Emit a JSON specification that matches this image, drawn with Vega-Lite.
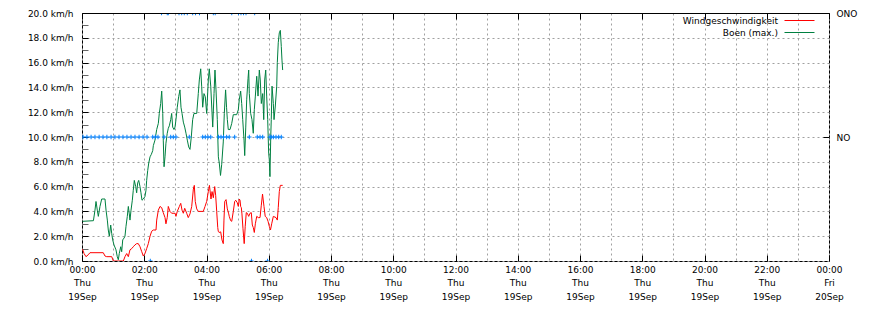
{
  "$schema": "https://vega.github.io/schema/vega-lite/v6.json",
  "width": 747,
  "height": 248,
  "autosize": {"type": "none"},
  "padding": {"left": 82, "top": 13, "right": 41, "bottom": 49},
  "background": "white",
  "config": {
    "view": {"stroke": "black", "strokeWidth": 1},
    "font": "DejaVu Sans",
    "axis": {"labelFont": "DejaVu Sans", "labelFontSize": 9, "labelColor": "black", "domain": false, "tickColor": "black", "tickWidth": 1, "gridColor": "#a0a0a0", "gridDash": [2, 3], "gridWidth": 1, "title": null}
  },
  "datasets": {
    "speed": [
      {"t": "2024-09-19T00:01:00", "s": "Boen (max.)", "v": 3.2},
      {"t": "2024-09-19T00:22:00", "s": "Boen (max.)", "v": 3.25},
      {"t": "2024-09-19T00:25:00", "s": "Boen (max.)", "v": 4.1},
      {"t": "2024-09-19T00:27:00", "s": "Boen (max.)", "v": 4.8},
      {"t": "2024-09-19T00:29:30", "s": "Boen (max.)", "v": 4.1},
      {"t": "2024-09-19T00:31:30", "s": "Boen (max.)", "v": 3.6},
      {"t": "2024-09-19T00:34:40", "s": "Boen (max.)", "v": 4.4},
      {"t": "2024-09-19T00:38:00", "s": "Boen (max.)", "v": 5.0},
      {"t": "2024-09-19T00:44:20", "s": "Boen (max.)", "v": 5.0},
      {"t": "2024-09-19T00:46:20", "s": "Boen (max.)", "v": 4.1},
      {"t": "2024-09-19T00:48:50", "s": "Boen (max.)", "v": 3.3},
      {"t": "2024-09-19T00:50:40", "s": "Boen (max.)", "v": 2.5},
      {"t": "2024-09-19T00:52:40", "s": "Boen (max.)", "v": 2.0},
      {"t": "2024-09-19T00:55:20", "s": "Boen (max.)", "v": 2.9},
      {"t": "2024-09-19T00:57:20", "s": "Boen (max.)", "v": 2.2},
      {"t": "2024-09-19T00:59:10", "s": "Boen (max.)", "v": 1.7},
      {"t": "2024-09-19T01:01:40", "s": "Boen (max.)", "v": 1.3},
      {"t": "2024-09-19T01:05:30", "s": "Boen (max.)", "v": 0.9},
      {"t": "2024-09-19T01:08:00", "s": "Boen (max.)", "v": 0.35},
      {"t": "2024-09-19T01:10:00", "s": "Boen (max.)", "v": 0.1},
      {"t": "2024-09-19T01:11:50", "s": "Boen (max.)", "v": 0.6},
      {"t": "2024-09-19T01:14:40", "s": "Boen (max.)", "v": 1.15},
      {"t": "2024-09-19T01:16:30", "s": "Boen (max.)", "v": 0.75},
      {"t": "2024-09-19T01:18:30", "s": "Boen (max.)", "v": 1.7},
      {"t": "2024-09-19T01:21:00", "s": "Boen (max.)", "v": 1.85},
      {"t": "2024-09-19T01:22:50", "s": "Boen (max.)", "v": 2.0},
      {"t": "2024-09-19T01:24:50", "s": "Boen (max.)", "v": 2.8},
      {"t": "2024-09-19T01:27:20", "s": "Boen (max.)", "v": 3.6},
      {"t": "2024-09-19T01:29:20", "s": "Boen (max.)", "v": 4.4},
      {"t": "2024-09-19T01:31:10", "s": "Boen (max.)", "v": 3.8},
      {"t": "2024-09-19T01:32:30", "s": "Boen (max.)", "v": 3.3},
      {"t": "2024-09-19T01:34:30", "s": "Boen (max.)", "v": 4.1},
      {"t": "2024-09-19T01:37:00", "s": "Boen (max.)", "v": 4.9},
      {"t": "2024-09-19T01:38:50", "s": "Boen (max.)", "v": 5.7},
      {"t": "2024-09-19T01:40:50", "s": "Boen (max.)", "v": 6.5},
      {"t": "2024-09-19T01:43:30", "s": "Boen (max.)", "v": 6.0},
      {"t": "2024-09-19T01:45:20", "s": "Boen (max.)", "v": 5.5},
      {"t": "2024-09-19T01:47:20", "s": "Boen (max.)", "v": 6.3},
      {"t": "2024-09-19T01:49:20", "s": "Boen (max.)", "v": 6.5},
      {"t": "2024-09-19T01:51:50", "s": "Boen (max.)", "v": 6.0},
      {"t": "2024-09-19T01:53:40", "s": "Boen (max.)", "v": 5.5},
      {"t": "2024-09-19T01:55:40", "s": "Boen (max.)", "v": 4.9},
      {"t": "2024-09-19T01:58:10", "s": "Boen (max.)", "v": 5.0},
      {"t": "2024-09-19T02:01:20", "s": "Boen (max.)", "v": 5.2},
      {"t": "2024-09-19T02:03:20", "s": "Boen (max.)", "v": 5.7},
      {"t": "2024-09-19T02:04:40", "s": "Boen (max.)", "v": 6.5},
      {"t": "2024-09-19T02:06:40", "s": "Boen (max.)", "v": 7.3},
      {"t": "2024-09-19T02:08:40", "s": "Boen (max.)", "v": 7.9},
      {"t": "2024-09-19T02:11:10", "s": "Boen (max.)", "v": 8.4},
      {"t": "2024-09-19T02:13:40", "s": "Boen (max.)", "v": 8.6},
      {"t": "2024-09-19T02:16:20", "s": "Boen (max.)", "v": 8.9},
      {"t": "2024-09-19T02:17:30", "s": "Boen (max.)", "v": 9.3},
      {"t": "2024-09-19T02:20:40", "s": "Boen (max.)", "v": 9.75},
      {"t": "2024-09-19T02:24:00", "s": "Boen (max.)", "v": 10.6},
      {"t": "2024-09-19T02:27:10", "s": "Boen (max.)", "v": 11.1},
      {"t": "2024-09-19T02:29:00", "s": "Boen (max.)", "v": 11.9},
      {"t": "2024-09-19T02:31:40", "s": "Boen (max.)", "v": 12.7},
      {"t": "2024-09-19T02:33:40", "s": "Boen (max.)", "v": 13.7},
      {"t": "2024-09-19T02:35:40", "s": "Boen (max.)", "v": 11.9},
      {"t": "2024-09-19T02:36:40", "s": "Boen (max.)", "v": 9.75},
      {"t": "2024-09-19T02:38:10", "s": "Boen (max.)", "v": 7.6},
      {"t": "2024-09-19T02:40:00", "s": "Boen (max.)", "v": 8.4},
      {"t": "2024-09-19T02:41:50", "s": "Boen (max.)", "v": 9.5},
      {"t": "2024-09-19T02:44:20", "s": "Boen (max.)", "v": 10.3},
      {"t": "2024-09-19T02:46:20", "s": "Boen (max.)", "v": 10.7},
      {"t": "2024-09-19T02:48:20", "s": "Boen (max.)", "v": 10.9},
      {"t": "2024-09-19T02:51:00", "s": "Boen (max.)", "v": 11.4},
      {"t": "2024-09-19T02:52:50", "s": "Boen (max.)", "v": 11.9},
      {"t": "2024-09-19T02:54:50", "s": "Boen (max.)", "v": 10.8},
      {"t": "2024-09-19T02:57:20", "s": "Boen (max.)", "v": 10.6},
      {"t": "2024-09-19T02:59:20", "s": "Boen (max.)", "v": 10.8},
      {"t": "2024-09-19T03:01:10", "s": "Boen (max.)", "v": 11.4},
      {"t": "2024-09-19T03:03:40", "s": "Boen (max.)", "v": 12.4},
      {"t": "2024-09-19T03:06:20", "s": "Boen (max.)", "v": 13.25},
      {"t": "2024-09-19T03:08:50", "s": "Boen (max.)", "v": 13.8},
      {"t": "2024-09-19T03:10:50", "s": "Boen (max.)", "v": 12.4},
      {"t": "2024-09-19T03:12:50", "s": "Boen (max.)", "v": 11.9},
      {"t": "2024-09-19T03:15:20", "s": "Boen (max.)", "v": 11.2},
      {"t": "2024-09-19T03:18:00", "s": "Boen (max.)", "v": 10.8},
      {"t": "2024-09-19T03:20:30", "s": "Boen (max.)", "v": 10.3},
      {"t": "2024-09-19T03:23:00", "s": "Boen (max.)", "v": 9.75},
      {"t": "2024-09-19T03:25:40", "s": "Boen (max.)", "v": 9.2},
      {"t": "2024-09-19T03:28:10", "s": "Boen (max.)", "v": 9.0},
      {"t": "2024-09-19T03:30:40", "s": "Boen (max.)", "v": 10.0},
      {"t": "2024-09-19T03:33:20", "s": "Boen (max.)", "v": 11.4},
      {"t": "2024-09-19T03:35:50", "s": "Boen (max.)", "v": 11.9},
      {"t": "2024-09-19T03:41:10", "s": "Boen (max.)", "v": 11.9},
      {"t": "2024-09-19T03:44:10", "s": "Boen (max.)", "v": 13.5},
      {"t": "2024-09-19T03:46:10", "s": "Boen (max.)", "v": 14.6},
      {"t": "2024-09-19T03:48:50", "s": "Boen (max.)", "v": 15.5},
      {"t": "2024-09-19T03:50:40", "s": "Boen (max.)", "v": 14.1},
      {"t": "2024-09-19T03:52:40", "s": "Boen (max.)", "v": 12.4},
      {"t": "2024-09-19T03:55:10", "s": "Boen (max.)", "v": 13.5},
      {"t": "2024-09-19T03:57:40", "s": "Boen (max.)", "v": 13.25},
      {"t": "2024-09-19T04:00:20", "s": "Boen (max.)", "v": 11.9},
      {"t": "2024-09-19T04:03:30", "s": "Boen (max.)", "v": 14.6},
      {"t": "2024-09-19T04:05:20", "s": "Boen (max.)", "v": 15.5},
      {"t": "2024-09-19T04:08:10", "s": "Boen (max.)", "v": 14.1},
      {"t": "2024-09-19T04:10:00", "s": "Boen (max.)", "v": 12.5},
      {"t": "2024-09-19T04:12:00", "s": "Boen (max.)", "v": 10.8},
      {"t": "2024-09-19T04:14:30", "s": "Boen (max.)", "v": 13.5},
      {"t": "2024-09-19T04:16:20", "s": "Boen (max.)", "v": 15.4},
      {"t": "2024-09-19T04:18:20", "s": "Boen (max.)", "v": 13.8},
      {"t": "2024-09-19T04:20:50", "s": "Boen (max.)", "v": 11.4},
      {"t": "2024-09-19T04:22:50", "s": "Boen (max.)", "v": 8.4},
      {"t": "2024-09-19T04:24:40", "s": "Boen (max.)", "v": 7.9},
      {"t": "2024-09-19T04:27:00", "s": "Boen (max.)", "v": 6.9},
      {"t": "2024-09-19T04:29:20", "s": "Boen (max.)", "v": 7.8},
      {"t": "2024-09-19T04:32:20", "s": "Boen (max.)", "v": 9.6},
      {"t": "2024-09-19T04:34:20", "s": "Boen (max.)", "v": 11.9},
      {"t": "2024-09-19T04:36:50", "s": "Boen (max.)", "v": 13.8},
      {"t": "2024-09-19T04:38:40", "s": "Boen (max.)", "v": 12.4},
      {"t": "2024-09-19T04:40:10", "s": "Boen (max.)", "v": 11.4},
      {"t": "2024-09-19T04:42:00", "s": "Boen (max.)", "v": 10.6},
      {"t": "2024-09-19T04:45:20", "s": "Boen (max.)", "v": 10.6},
      {"t": "2024-09-19T04:48:40", "s": "Boen (max.)", "v": 11.1},
      {"t": "2024-09-19T04:51:40", "s": "Boen (max.)", "v": 11.8},
      {"t": "2024-09-19T04:58:10", "s": "Boen (max.)", "v": 11.8},
      {"t": "2024-09-19T05:01:20", "s": "Boen (max.)", "v": 12.2},
      {"t": "2024-09-19T05:03:10", "s": "Boen (max.)", "v": 13.0},
      {"t": "2024-09-19T05:05:50", "s": "Boen (max.)", "v": 13.7},
      {"t": "2024-09-19T05:07:50", "s": "Boen (max.)", "v": 12.7},
      {"t": "2024-09-19T05:09:50", "s": "Boen (max.)", "v": 11.4},
      {"t": "2024-09-19T05:12:20", "s": "Boen (max.)", "v": 9.75},
      {"t": "2024-09-19T05:13:40", "s": "Boen (max.)", "v": 8.5},
      {"t": "2024-09-19T05:15:40", "s": "Boen (max.)", "v": 10.8},
      {"t": "2024-09-19T05:17:30", "s": "Boen (max.)", "v": 13.0},
      {"t": "2024-09-19T05:20:00", "s": "Boen (max.)", "v": 14.7},
      {"t": "2024-09-19T05:21:20", "s": "Boen (max.)", "v": 15.4},
      {"t": "2024-09-19T05:22:30", "s": "Boen (max.)", "v": 13.5},
      {"t": "2024-09-19T05:25:10", "s": "Boen (max.)", "v": 11.9},
      {"t": "2024-09-19T05:27:40", "s": "Boen (max.)", "v": 11.4},
      {"t": "2024-09-19T05:30:10", "s": "Boen (max.)", "v": 10.3},
      {"t": "2024-09-19T05:32:10", "s": "Boen (max.)", "v": 12.2},
      {"t": "2024-09-19T05:34:10", "s": "Boen (max.)", "v": 13.3},
      {"t": "2024-09-19T05:36:50", "s": "Boen (max.)", "v": 14.9},
      {"t": "2024-09-19T05:39:20", "s": "Boen (max.)", "v": 13.3},
      {"t": "2024-09-19T05:41:50", "s": "Boen (max.)", "v": 15.4},
      {"t": "2024-09-19T05:43:40", "s": "Boen (max.)", "v": 14.6},
      {"t": "2024-09-19T05:45:40", "s": "Boen (max.)", "v": 12.7},
      {"t": "2024-09-19T05:48:20", "s": "Boen (max.)", "v": 13.5},
      {"t": "2024-09-19T05:50:20", "s": "Boen (max.)", "v": 11.4},
      {"t": "2024-09-19T05:52:10", "s": "Boen (max.)", "v": 14.6},
      {"t": "2024-09-19T05:54:10", "s": "Boen (max.)", "v": 15.4},
      {"t": "2024-09-19T05:56:00", "s": "Boen (max.)", "v": 13.3},
      {"t": "2024-09-19T05:58:00", "s": "Boen (max.)", "v": 11.4},
      {"t": "2024-09-19T05:59:50", "s": "Boen (max.)", "v": 8.7},
      {"t": "2024-09-19T06:01:00", "s": "Boen (max.)", "v": 8.2},
      {"t": "2024-09-19T06:02:20", "s": "Boen (max.)", "v": 6.8},
      {"t": "2024-09-19T06:03:50", "s": "Boen (max.)", "v": 10.0},
      {"t": "2024-09-19T06:04:50", "s": "Boen (max.)", "v": 11.4},
      {"t": "2024-09-19T06:06:20", "s": "Boen (max.)", "v": 14.1},
      {"t": "2024-09-19T06:08:50", "s": "Boen (max.)", "v": 12.7},
      {"t": "2024-09-19T06:10:10", "s": "Boen (max.)", "v": 11.4},
      {"t": "2024-09-19T06:12:40", "s": "Boen (max.)", "v": 12.5},
      {"t": "2024-09-19T06:15:20", "s": "Boen (max.)", "v": 14.1},
      {"t": "2024-09-19T06:16:30", "s": "Boen (max.)", "v": 16.0},
      {"t": "2024-09-19T06:18:20", "s": "Boen (max.)", "v": 17.6},
      {"t": "2024-09-19T06:20:20", "s": "Boen (max.)", "v": 18.4},
      {"t": "2024-09-19T06:22:20", "s": "Boen (max.)", "v": 18.6},
      {"t": "2024-09-19T06:24:10", "s": "Boen (max.)", "v": 17.3},
      {"t": "2024-09-19T06:25:30", "s": "Boen (max.)", "v": 16.2},
      {"t": "2024-09-19T06:26:50", "s": "Boen (max.)", "v": 15.4},
      {"t": "2024-09-19T00:01:00", "s": "Windgeschwindigkeit", "v": 0.95},
      {"t": "2024-09-19T00:04:00", "s": "Windgeschwindigkeit", "v": 0.6},
      {"t": "2024-09-19T00:07:40", "s": "Windgeschwindigkeit", "v": 0.35},
      {"t": "2024-09-19T00:12:00", "s": "Windgeschwindigkeit", "v": 0.5},
      {"t": "2024-09-19T00:15:20", "s": "Windgeschwindigkeit", "v": 0.67},
      {"t": "2024-09-19T00:41:00", "s": "Windgeschwindigkeit", "v": 0.67},
      {"t": "2024-09-19T00:44:20", "s": "Windgeschwindigkeit", "v": 0.4},
      {"t": "2024-09-19T00:47:40", "s": "Windgeschwindigkeit", "v": 0.35},
      {"t": "2024-09-19T00:57:20", "s": "Windgeschwindigkeit", "v": 0.35},
      {"t": "2024-09-19T01:00:20", "s": "Windgeschwindigkeit", "v": 0.0},
      {"t": "2024-09-19T01:19:40", "s": "Windgeschwindigkeit", "v": 0.0},
      {"t": "2024-09-19T01:22:50", "s": "Windgeschwindigkeit", "v": 0.35},
      {"t": "2024-09-19T01:26:10", "s": "Windgeschwindigkeit", "v": 0.6},
      {"t": "2024-09-19T01:29:20", "s": "Windgeschwindigkeit", "v": 0.35},
      {"t": "2024-09-19T01:32:30", "s": "Windgeschwindigkeit", "v": 0.9},
      {"t": "2024-09-19T01:35:50", "s": "Windgeschwindigkeit", "v": 1.0},
      {"t": "2024-09-19T01:38:50", "s": "Windgeschwindigkeit", "v": 1.15},
      {"t": "2024-09-19T01:42:10", "s": "Windgeschwindigkeit", "v": 1.3},
      {"t": "2024-09-19T01:45:20", "s": "Windgeschwindigkeit", "v": 1.4},
      {"t": "2024-09-19T01:48:30", "s": "Windgeschwindigkeit", "v": 1.4},
      {"t": "2024-09-19T01:51:50", "s": "Windgeschwindigkeit", "v": 1.15},
      {"t": "2024-09-19T01:55:10", "s": "Windgeschwindigkeit", "v": 0.75},
      {"t": "2024-09-19T01:58:10", "s": "Windgeschwindigkeit", "v": 0.4},
      {"t": "2024-09-19T02:01:20", "s": "Windgeschwindigkeit", "v": 0.6},
      {"t": "2024-09-19T02:04:40", "s": "Windgeschwindigkeit", "v": 1.0},
      {"t": "2024-09-19T02:07:50", "s": "Windgeschwindigkeit", "v": 1.4},
      {"t": "2024-09-19T02:11:10", "s": "Windgeschwindigkeit", "v": 2.0},
      {"t": "2024-09-19T02:14:20", "s": "Windgeschwindigkeit", "v": 2.4},
      {"t": "2024-09-19T02:17:30", "s": "Windgeschwindigkeit", "v": 2.5},
      {"t": "2024-09-19T02:22:40", "s": "Windgeschwindigkeit", "v": 2.5},
      {"t": "2024-09-19T02:24:00", "s": "Windgeschwindigkeit", "v": 3.3},
      {"t": "2024-09-19T02:27:10", "s": "Windgeschwindigkeit", "v": 4.1},
      {"t": "2024-09-19T02:30:20", "s": "Windgeschwindigkeit", "v": 4.4},
      {"t": "2024-09-19T02:33:40", "s": "Windgeschwindigkeit", "v": 4.3},
      {"t": "2024-09-19T02:36:40", "s": "Windgeschwindigkeit", "v": 3.9},
      {"t": "2024-09-19T02:40:00", "s": "Windgeschwindigkeit", "v": 3.5},
      {"t": "2024-09-19T02:41:50", "s": "Windgeschwindigkeit", "v": 3.0},
      {"t": "2024-09-19T02:44:20", "s": "Windgeschwindigkeit", "v": 3.5},
      {"t": "2024-09-19T02:46:20", "s": "Windgeschwindigkeit", "v": 4.4},
      {"t": "2024-09-19T02:49:40", "s": "Windgeschwindigkeit", "v": 4.0},
      {"t": "2024-09-19T02:52:50", "s": "Windgeschwindigkeit", "v": 3.85},
      {"t": "2024-09-19T02:59:20", "s": "Windgeschwindigkeit", "v": 3.85},
      {"t": "2024-09-19T03:01:10", "s": "Windgeschwindigkeit", "v": 3.6},
      {"t": "2024-09-19T03:03:40", "s": "Windgeschwindigkeit", "v": 4.0},
      {"t": "2024-09-19T03:07:40", "s": "Windgeschwindigkeit", "v": 4.4},
      {"t": "2024-09-19T03:10:20", "s": "Windgeschwindigkeit", "v": 4.65},
      {"t": "2024-09-19T03:12:50", "s": "Windgeschwindigkeit", "v": 4.1},
      {"t": "2024-09-19T03:15:20", "s": "Windgeschwindigkeit", "v": 3.85},
      {"t": "2024-09-19T03:18:00", "s": "Windgeschwindigkeit", "v": 4.25},
      {"t": "2024-09-19T03:21:50", "s": "Windgeschwindigkeit", "v": 3.85},
      {"t": "2024-09-19T03:24:50", "s": "Windgeschwindigkeit", "v": 3.5},
      {"t": "2024-09-19T03:28:10", "s": "Windgeschwindigkeit", "v": 3.8},
      {"t": "2024-09-19T03:31:30", "s": "Windgeschwindigkeit", "v": 4.4},
      {"t": "2024-09-19T03:34:40", "s": "Windgeschwindigkeit", "v": 5.8},
      {"t": "2024-09-19T03:36:30", "s": "Windgeschwindigkeit", "v": 6.1},
      {"t": "2024-09-19T03:38:20", "s": "Windgeschwindigkeit", "v": 4.8},
      {"t": "2024-09-19T03:41:10", "s": "Windgeschwindigkeit", "v": 4.2},
      {"t": "2024-09-19T03:44:10", "s": "Windgeschwindigkeit", "v": 4.0},
      {"t": "2024-09-19T03:53:50", "s": "Windgeschwindigkeit", "v": 4.0},
      {"t": "2024-09-19T03:57:10", "s": "Windgeschwindigkeit", "v": 4.4},
      {"t": "2024-09-19T04:00:20", "s": "Windgeschwindigkeit", "v": 4.8},
      {"t": "2024-09-19T04:03:30", "s": "Windgeschwindigkeit", "v": 5.6},
      {"t": "2024-09-19T04:05:40", "s": "Windgeschwindigkeit", "v": 6.1},
      {"t": "2024-09-19T04:08:40", "s": "Windgeschwindigkeit", "v": 5.0},
      {"t": "2024-09-19T04:10:40", "s": "Windgeschwindigkeit", "v": 5.6},
      {"t": "2024-09-19T04:13:10", "s": "Windgeschwindigkeit", "v": 5.1},
      {"t": "2024-09-19T04:15:50", "s": "Windgeschwindigkeit", "v": 6.0},
      {"t": "2024-09-19T04:17:40", "s": "Windgeschwindigkeit", "v": 5.3},
      {"t": "2024-09-19T04:19:40", "s": "Windgeschwindigkeit", "v": 4.0},
      {"t": "2024-09-19T04:21:40", "s": "Windgeschwindigkeit", "v": 2.7},
      {"t": "2024-09-19T04:22:40", "s": "Windgeschwindigkeit", "v": 2.4},
      {"t": "2024-09-19T04:24:10", "s": "Windgeschwindigkeit", "v": 2.3},
      {"t": "2024-09-19T04:27:20", "s": "Windgeschwindigkeit", "v": 2.35},
      {"t": "2024-09-19T04:29:50", "s": "Windgeschwindigkeit", "v": 1.7},
      {"t": "2024-09-19T04:32:20", "s": "Windgeschwindigkeit", "v": 1.4},
      {"t": "2024-09-19T04:33:40", "s": "Windgeschwindigkeit", "v": 3.3},
      {"t": "2024-09-19T04:35:10", "s": "Windgeschwindigkeit", "v": 4.8},
      {"t": "2024-09-19T04:37:40", "s": "Windgeschwindigkeit", "v": 4.95},
      {"t": "2024-09-19T04:40:10", "s": "Windgeschwindigkeit", "v": 4.2},
      {"t": "2024-09-19T04:42:50", "s": "Windgeschwindigkeit", "v": 3.8},
      {"t": "2024-09-19T04:43:50", "s": "Windgeschwindigkeit", "v": 3.6},
      {"t": "2024-09-19T04:46:40", "s": "Windgeschwindigkeit", "v": 3.25},
      {"t": "2024-09-19T04:48:40", "s": "Windgeschwindigkeit", "v": 3.2},
      {"t": "2024-09-19T04:51:40", "s": "Windgeschwindigkeit", "v": 4.0},
      {"t": "2024-09-19T04:54:20", "s": "Windgeschwindigkeit", "v": 4.8},
      {"t": "2024-09-19T04:56:20", "s": "Windgeschwindigkeit", "v": 4.9},
      {"t": "2024-09-19T04:59:20", "s": "Windgeschwindigkeit", "v": 4.7},
      {"t": "2024-09-19T05:01:20", "s": "Windgeschwindigkeit", "v": 4.4},
      {"t": "2024-09-19T05:03:10", "s": "Windgeschwindigkeit", "v": 5.0},
      {"t": "2024-09-19T05:04:40", "s": "Windgeschwindigkeit", "v": 4.9},
      {"t": "2024-09-19T05:05:50", "s": "Windgeschwindigkeit", "v": 4.4},
      {"t": "2024-09-19T05:07:10", "s": "Windgeschwindigkeit", "v": 4.3},
      {"t": "2024-09-19T05:08:20", "s": "Windgeschwindigkeit", "v": 3.8},
      {"t": "2024-09-19T05:10:20", "s": "Windgeschwindigkeit", "v": 2.6},
      {"t": "2024-09-19T05:12:40", "s": "Windgeschwindigkeit", "v": 1.4},
      {"t": "2024-09-19T05:14:40", "s": "Windgeschwindigkeit", "v": 2.8},
      {"t": "2024-09-19T05:16:40", "s": "Windgeschwindigkeit", "v": 3.9},
      {"t": "2024-09-19T05:18:40", "s": "Windgeschwindigkeit", "v": 3.85},
      {"t": "2024-09-19T05:21:20", "s": "Windgeschwindigkeit", "v": 3.6},
      {"t": "2024-09-19T05:23:50", "s": "Windgeschwindigkeit", "v": 3.85},
      {"t": "2024-09-19T05:26:20", "s": "Windgeschwindigkeit", "v": 3.9},
      {"t": "2024-09-19T05:28:20", "s": "Windgeschwindigkeit", "v": 2.9},
      {"t": "2024-09-19T05:30:10", "s": "Windgeschwindigkeit", "v": 2.7},
      {"t": "2024-09-19T05:32:10", "s": "Windgeschwindigkeit", "v": 2.3},
      {"t": "2024-09-19T05:34:10", "s": "Windgeschwindigkeit", "v": 3.0},
      {"t": "2024-09-19T05:36:50", "s": "Windgeschwindigkeit", "v": 3.6},
      {"t": "2024-09-19T05:39:50", "s": "Windgeschwindigkeit", "v": 3.5},
      {"t": "2024-09-19T05:43:10", "s": "Windgeschwindigkeit", "v": 3.5},
      {"t": "2024-09-19T05:45:40", "s": "Windgeschwindigkeit", "v": 4.5},
      {"t": "2024-09-19T05:48:00", "s": "Windgeschwindigkeit", "v": 5.4},
      {"t": "2024-09-19T05:50:50", "s": "Windgeschwindigkeit", "v": 4.4},
      {"t": "2024-09-19T05:53:10", "s": "Windgeschwindigkeit", "v": 3.6},
      {"t": "2024-09-19T05:56:00", "s": "Windgeschwindigkeit", "v": 3.5},
      {"t": "2024-09-19T05:58:40", "s": "Windgeschwindigkeit", "v": 3.2},
      {"t": "2024-09-19T06:01:00", "s": "Windgeschwindigkeit", "v": 2.8},
      {"t": "2024-09-19T06:03:20", "s": "Windgeschwindigkeit", "v": 2.5},
      {"t": "2024-09-19T06:05:40", "s": "Windgeschwindigkeit", "v": 3.0},
      {"t": "2024-09-19T06:08:50", "s": "Windgeschwindigkeit", "v": 3.6},
      {"t": "2024-09-19T06:14:00", "s": "Windgeschwindigkeit", "v": 3.5},
      {"t": "2024-09-19T06:16:30", "s": "Windgeschwindigkeit", "v": 3.3},
      {"t": "2024-09-19T06:18:20", "s": "Windgeschwindigkeit", "v": 4.3},
      {"t": "2024-09-19T06:20:20", "s": "Windgeschwindigkeit", "v": 5.6},
      {"t": "2024-09-19T06:22:20", "s": "Windgeschwindigkeit", "v": 6.1},
      {"t": "2024-09-19T06:26:50", "s": "Windgeschwindigkeit", "v": 6.1}
    ],
    "richtung": [
      {"t": "2024-09-19T00:02:00", "d": "NO"},
      {"t": "2024-09-19T00:09:30", "d": "NO"},
      {"t": "2024-09-19T00:17:30", "d": "NO"},
      {"t": "2024-09-19T00:25:00", "d": "NO"},
      {"t": "2024-09-19T00:33:00", "d": "NO"},
      {"t": "2024-09-19T00:40:30", "d": "NO"},
      {"t": "2024-09-19T00:48:00", "d": "NO"},
      {"t": "2024-09-19T00:56:00", "d": "NO"},
      {"t": "2024-09-19T01:03:30", "d": "NO"},
      {"t": "2024-09-19T01:11:20", "d": "NO"},
      {"t": "2024-09-19T01:19:00", "d": "NO"},
      {"t": "2024-09-19T01:26:40", "d": "NO"},
      {"t": "2024-09-19T01:34:30", "d": "NO"},
      {"t": "2024-09-19T01:42:10", "d": "NO"},
      {"t": "2024-09-19T01:50:00", "d": "NO"},
      {"t": "2024-09-19T01:57:40", "d": "NO"},
      {"t": "2024-09-19T02:05:20", "d": "NO"},
      {"t": "2024-09-19T02:11:40", "d": "NNO"},
      {"t": "2024-09-19T02:16:20", "d": "NO"},
      {"t": "2024-09-19T02:21:20", "d": "NO"},
      {"t": "2024-09-19T02:26:30", "d": "NO"},
      {"t": "2024-09-19T02:33:20", "d": "ONO"},
      {"t": "2024-09-19T02:38:10", "d": "NO"},
      {"t": "2024-09-19T02:44:20", "d": "ONO"},
      {"t": "2024-09-19T02:46:20", "d": "ONO"},
      {"t": "2024-09-19T02:51:00", "d": "NO"},
      {"t": "2024-09-19T02:56:00", "d": "NO"},
      {"t": "2024-09-19T03:01:10", "d": "NO"},
      {"t": "2024-09-19T03:07:00", "d": "ONO"},
      {"t": "2024-09-19T03:12:10", "d": "ONO"},
      {"t": "2024-09-19T03:17:10", "d": "ONO"},
      {"t": "2024-09-19T03:23:00", "d": "ONO"},
      {"t": "2024-09-19T03:26:50", "d": "NO"},
      {"t": "2024-09-19T03:33:20", "d": "ONO"},
      {"t": "2024-09-19T03:38:50", "d": "ONO"},
      {"t": "2024-09-19T03:46:30", "d": "ONO"},
      {"t": "2024-09-19T03:52:40", "d": "NO"},
      {"t": "2024-09-19T03:57:40", "d": "NO"},
      {"t": "2024-09-19T04:02:50", "d": "NO"},
      {"t": "2024-09-19T04:08:10", "d": "NO"},
      {"t": "2024-09-19T04:13:10", "d": "ONO"},
      {"t": "2024-09-19T04:16:50", "d": "ONO"},
      {"t": "2024-09-19T04:23:10", "d": "NO"},
      {"t": "2024-09-19T04:28:00", "d": "NO"},
      {"t": "2024-09-19T04:32:50", "d": "NO"},
      {"t": "2024-09-19T04:38:50", "d": "NO"},
      {"t": "2024-09-19T04:43:50", "d": "NO"},
      {"t": "2024-09-19T04:48:40", "d": "ONO"},
      {"t": "2024-09-19T04:54:20", "d": "NO"},
      {"t": "2024-09-19T05:01:40", "d": "ONO"},
      {"t": "2024-09-19T05:06:30", "d": "ONO"},
      {"t": "2024-09-19T05:11:20", "d": "ONO"},
      {"t": "2024-09-19T05:16:10", "d": "ONO"},
      {"t": "2024-09-19T05:22:30", "d": "NO"},
      {"t": "2024-09-19T05:26:40", "d": "NNO"},
      {"t": "2024-09-19T05:32:50", "d": "ONO"},
      {"t": "2024-09-19T05:37:50", "d": "NO"},
      {"t": "2024-09-19T05:43:10", "d": "NO"},
      {"t": "2024-09-19T05:48:20", "d": "NO"},
      {"t": "2024-09-19T05:57:40", "d": "NNO"},
      {"t": "2024-09-19T06:02:20", "d": "NO"},
      {"t": "2024-09-19T06:04:50", "d": "NO"},
      {"t": "2024-09-19T06:08:50", "d": "NO"},
      {"t": "2024-09-19T06:14:00", "d": "NO"},
      {"t": "2024-09-19T06:19:10", "d": "NO"},
      {"t": "2024-09-19T06:24:10", "d": "NO"}
    ]
  },
  "layer": [
    {
      "data": {"name": "speed"},
      "mark": {"type": "line", "strokeWidth": 1, "clip": true},
      "encoding": {
        "x": {
          "field": "t", "type": "temporal",
          "scale": {"domain": [{"year": 2024, "month": 9, "date": 19, "hours": 0}, {"year": 2024, "month": 9, "date": 20, "hours": 0}]},
          "axis": {
            "orient": "bottom",
            "values": [
              {"year": 2024, "month": 9, "date": 19, "hours": 0},
              {"year": 2024, "month": 9, "date": 19, "hours": 1},
              {"year": 2024, "month": 9, "date": 19, "hours": 2},
              {"year": 2024, "month": 9, "date": 19, "hours": 3},
              {"year": 2024, "month": 9, "date": 19, "hours": 4},
              {"year": 2024, "month": 9, "date": 19, "hours": 5},
              {"year": 2024, "month": 9, "date": 19, "hours": 6},
              {"year": 2024, "month": 9, "date": 19, "hours": 7},
              {"year": 2024, "month": 9, "date": 19, "hours": 8},
              {"year": 2024, "month": 9, "date": 19, "hours": 9},
              {"year": 2024, "month": 9, "date": 19, "hours": 10},
              {"year": 2024, "month": 9, "date": 19, "hours": 11},
              {"year": 2024, "month": 9, "date": 19, "hours": 12},
              {"year": 2024, "month": 9, "date": 19, "hours": 13},
              {"year": 2024, "month": 9, "date": 19, "hours": 14},
              {"year": 2024, "month": 9, "date": 19, "hours": 15},
              {"year": 2024, "month": 9, "date": 19, "hours": 16},
              {"year": 2024, "month": 9, "date": 19, "hours": 17},
              {"year": 2024, "month": 9, "date": 19, "hours": 18},
              {"year": 2024, "month": 9, "date": 19, "hours": 19},
              {"year": 2024, "month": 9, "date": 19, "hours": 20},
              {"year": 2024, "month": 9, "date": 19, "hours": 21},
              {"year": 2024, "month": 9, "date": 19, "hours": 22},
              {"year": 2024, "month": 9, "date": 19, "hours": 23},
              {"year": 2024, "month": 9, "date": 20, "hours": 0}
            ],
            "grid": true,
            "tickSize": -6,
            "tickOpacity": {"condition": {"test": "hours(datum.value) % 2 == 1", "value": 0}, "value": 1},
            "labelExpr": "hours(datum.value) % 2 == 0 ? [timeFormat(datum.value, '%H:%M'), timeFormat(datum.value, '%a'), timeFormat(datum.value, '%d%b')] : ''",
            "labelFlush": false,
            "labelOverlap": false,
            "labelBound": false,
            "labelAlign": "center",
            "labelBaseline": "top",
            "labelPadding": 10,
            "labelLineHeight": 13.5
          }
        },
        "y": {
          "field": "v", "type": "quantitative",
          "scale": {"domain": [0, 20], "nice": false},
          "axis": {
            "orient": "left",
            "values": [0, 1, 2, 3, 4, 5, 6, 7, 8, 9, 10, 11, 12, 13, 14, 15, 16, 17, 18, 19, 20],
            "grid": true,
            "gridOpacity": {"condition": {"test": "datum.value % 2 == 1", "value": 0}, "value": 1},
            "tickSize": -6,
            "tickOpacity": {"condition": {"test": "datum.value % 2 == 1", "value": 0.6}, "value": 1},
            "labelExpr": "datum.value % 2 == 0 ? format(datum.value, '.1f') + ' km/h' : ''",
            "labelPadding": 15,
            "labelBaseline": "middle"
          }
        },
        "color": {
          "field": "s", "type": "nominal",
          "scale": {"domain": ["Windgeschwindigkeit", "Boen (max.)"], "range": ["#ff0000", "#008040"]},
          "legend": {
            "title": null,
            "orient": "none",
            "legendX": 703,
            "legendY": 3,
            "symbolType": "M-6,0L6,0",
            "symbolSize": 25,
            "symbolStrokeWidth": 1,
            "symbolOffset": 10,
            "rowPadding": 2,
            "padding": 0,
            "labelAlign": "right",
            "labelOffset": -26,
            "labelFont": "DejaVu Sans",
            "labelFontSize": 9,
            "labelColor": "black"
          }
        }
      }
    },
    {
      "data": {"name": "richtung"},
      "mark": {"type": "point", "shape": "M-1,0L1,0M0,-1L0,1", "filled": false, "size": 20, "strokeWidth": 1, "color": "#0080ff", "opacity": 1, "clip": true},
      "encoding": {
        "x": {
          "field": "t", "type": "temporal",
          "axis": {
            "orient": "top",
            "values": [
              {"year": 2024, "month": 9, "date": 19, "hours": 0},
              {"year": 2024, "month": 9, "date": 19, "hours": 2},
              {"year": 2024, "month": 9, "date": 19, "hours": 4},
              {"year": 2024, "month": 9, "date": 19, "hours": 6},
              {"year": 2024, "month": 9, "date": 19, "hours": 8},
              {"year": 2024, "month": 9, "date": 19, "hours": 10},
              {"year": 2024, "month": 9, "date": 19, "hours": 12},
              {"year": 2024, "month": 9, "date": 19, "hours": 14},
              {"year": 2024, "month": 9, "date": 19, "hours": 16},
              {"year": 2024, "month": 9, "date": 19, "hours": 18},
              {"year": 2024, "month": 9, "date": 19, "hours": 20},
              {"year": 2024, "month": 9, "date": 19, "hours": 22},
              {"year": 2024, "month": 9, "date": 20, "hours": 0}
            ],
            "labels": false,
            "grid": false,
            "domain": true,
            "domainColor": "black",
            "domainWidth": 1,
            "zindex": 1,
            "tickSize": -6
          }
        },
        "y": {
          "field": "d", "type": "ordinal",
          "scale": {"type": "point", "domain": ["ONO", "NO", "NNO"], "padding": 0},
          "axis": {"orient": "right", "values": ["NO", "ONO"], "grid": false, "tickSize": -6, "labelPadding": 13, "labelBaseline": "middle"}
        }
      }
    }
  ],
  "resolve": {"scale": {"y": "independent"}, "axis": {"x": "independent", "y": "independent"}}
}
